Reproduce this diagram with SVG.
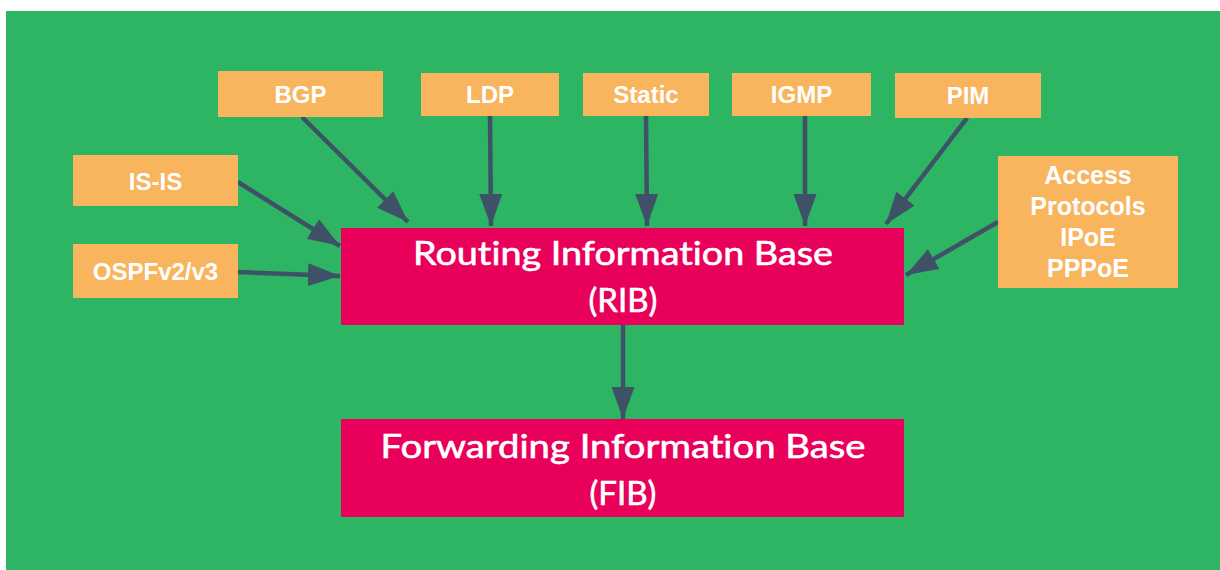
<svg xmlns="http://www.w3.org/2000/svg" width="1220" height="570" viewBox="0 0 1220 570">
<style>
.proto rect{fill:#f9b45e}
.proto text{fill:#ffffff;font-family:"Liberation Sans",Arial,sans-serif;font-weight:bold;font-size:24px;text-anchor:middle}
.proto text.acc{font-size:25px}
.base rect{fill:#e8005a}
.base text{fill:#ffffff;stroke:#ffffff;stroke-width:0.6;font-family:Lato,"Open Sans",sans-serif;font-size:33px;text-anchor:middle;font-variant-ligatures:none;font-feature-settings:"liga" 0}
.conn line{stroke:#3e5167;stroke-width:4.5;fill:none;marker-end:url(#ah)}
</style>
<defs>
<marker id="ah" markerUnits="userSpaceOnUse" markerWidth="34" markerHeight="24" refX="32" refY="11.5" orient="auto">
<path d="M0,0 L32,11.5 L0,23 Z" fill="#3e5167"/>
</marker>
</defs>
<rect x="0" y="0" width="1220" height="570" fill="#ffffff"/>
<rect x="6" y="11" width="1214" height="559" fill="#2db564"/>
<g class="conn">
<line x1="302" y1="117" x2="408" y2="222"/>
<line x1="238" y1="182" x2="340" y2="246"/>
<line x1="238" y1="272" x2="340" y2="276"/>
<line x1="490" y1="116" x2="491" y2="226"/>
<line x1="646" y1="116" x2="647" y2="226"/>
<line x1="805" y1="116" x2="805" y2="226"/>
<line x1="967" y1="118" x2="886" y2="224"/>
<line x1="998" y1="222" x2="906" y2="275"/>
<line x1="623" y1="325" x2="623" y2="419"/>
</g>
<g id="bgp" class="proto"><rect x="218" y="71" width="165" height="46"/><text x="300.5" y="103">BGP</text></g>
<g id="ldp" class="proto"><rect x="421" y="73" width="138" height="43"/><text x="490" y="103">LDP</text></g>
<g id="static" class="proto"><rect x="583" y="73" width="126" height="43"/><text x="646" y="103">Static</text></g>
<g id="igmp" class="proto"><rect x="732" y="73" width="139" height="43"/><text x="801.5" y="103">IGMP</text></g>
<g id="pim" class="proto"><rect x="895" y="73" width="146" height="45"/><text x="968" y="104">PIM</text></g>
<g id="isis" class="proto"><rect x="73" y="155" width="165" height="51"/><text x="155.5" y="190">IS-IS</text></g>
<g id="ospf" class="proto"><rect x="73" y="244" width="165" height="54"/><text x="155.5" y="280">OSPFv2/v3</text></g>
<g id="access" class="proto"><rect x="998" y="156" width="180" height="132"/>
<text class="acc" x="1088" y="184">Access</text><text class="acc" x="1088" y="215">Protocols</text><text class="acc" x="1088" y="246">IPoE</text><text class="acc" x="1088" y="277">PPPoE</text></g>
<g id="rib" class="base"><rect x="341" y="228" width="563" height="97"/>
<text x="623" y="265" textLength="420" lengthAdjust="spacingAndGlyphs">Routing Information Base</text>
<text x="623" y="312">(RIB)</text></g>
<g id="fib" class="base"><rect x="341" y="419" width="563" height="98"/>
<text x="623" y="458" textLength="485" lengthAdjust="spacingAndGlyphs">Forwarding Information Base</text>
<text x="623" y="505">(FIB)</text></g>
</svg>
